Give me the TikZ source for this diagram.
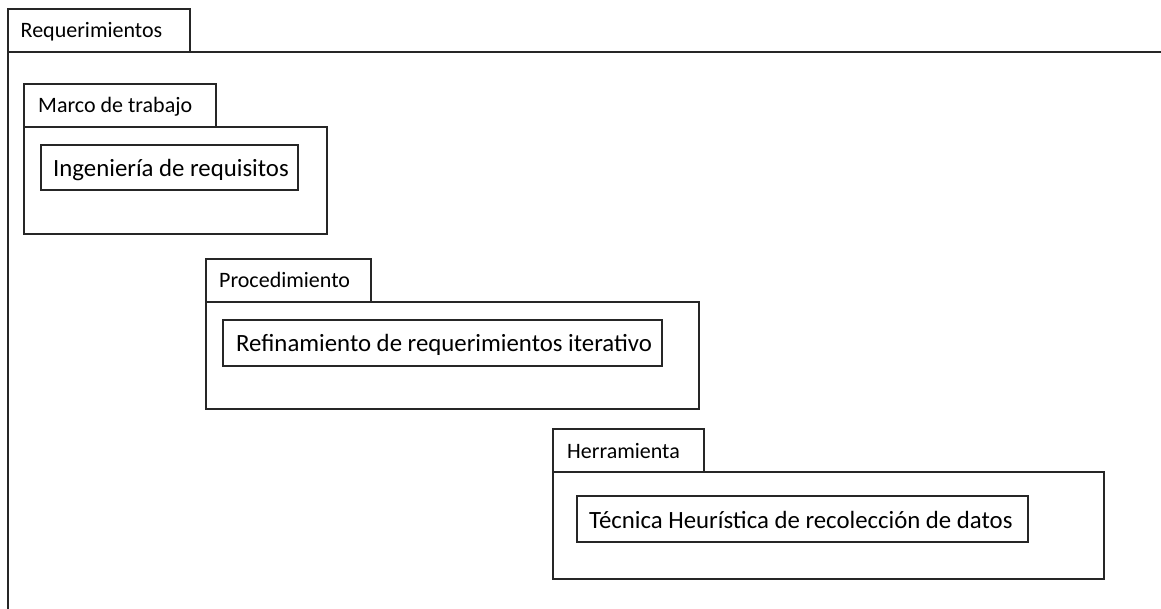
\documentclass[tikz,border=0pt]{standalone}
\usepackage{fontspec}
\setmainfont{Carlito}
\begin{document}
\begin{tikzpicture}[x=1pt,y=-1pt,
  frame/.style={draw=black!85, line width=1.3pt, anchor=north west, inner sep=0pt, outer sep=0pt},
  tabtext/.style={anchor=base west, inner sep=0pt, font=\fontsize{22}{26}\selectfont},
  boxtext/.style={anchor=base west, inner sep=0pt, font=\fontsize{24.8}{29}\selectfont},
  edge/.style={draw=black!85, line width=1.3pt}]
\useasboundingbox (0,0) rectangle (1161,609);
% outer package
\node[frame, minimum width=182pt, minimum height=43pt] (reqtab) at (8,9) {};
\node[tabtext] (reqlbl) at (20.5,38) {Requerimientos};
\coordinate (reqright) at (1161,52);
\coordinate (reqbottom) at (8,609);
\draw[edge] (reqtab.south west) -- (reqright);
\draw[edge] (reqtab.south west) -- (reqbottom);
% Marco de trabajo
\node[frame, minimum width=192pt, minimum height=43pt] (mtab) at (24,84) {};
\node[frame, minimum width=303pt, minimum height=107pt] (mbody) at (24,127) {};
\node[tabtext] (mlbl) at (38,113) {Marco de trabajo};
\node[frame, minimum width=257pt, minimum height=45pt] (mbox) at (41,145) {};
\node[boxtext] (mtxt) at (53,177) {Ingeniería de requisitos};
% Procedimiento
\node[frame, minimum width=165pt, minimum height=43pt] (ptab) at (206,259) {};
\node[frame, minimum width=493pt, minimum height=107pt] (pbody) at (206,302) {};
\node[tabtext] (plbl) at (219,288) {Procedimiento};
\node[frame, minimum width=439pt, minimum height=46pt] (pbox) at (223,320) {};
\node[boxtext] (ptxt) at (236,352) {Refinamiento de requerimientos iterativo};
% Herramienta
\node[frame, minimum width=151pt, minimum height=43pt] (htab) at (553,429) {};
\node[frame, minimum width=551pt, minimum height=107pt] (hbody) at (553,472) {};
\node[tabtext] (hlbl) at (567,458) {Herramienta};
\node[frame, minimum width=451pt, minimum height=46pt] (hbox) at (577,496) {};
\node[boxtext] (htxt) at (589,528) {Técnica Heurística de recolección de datos};
\end{tikzpicture}
\end{document}
